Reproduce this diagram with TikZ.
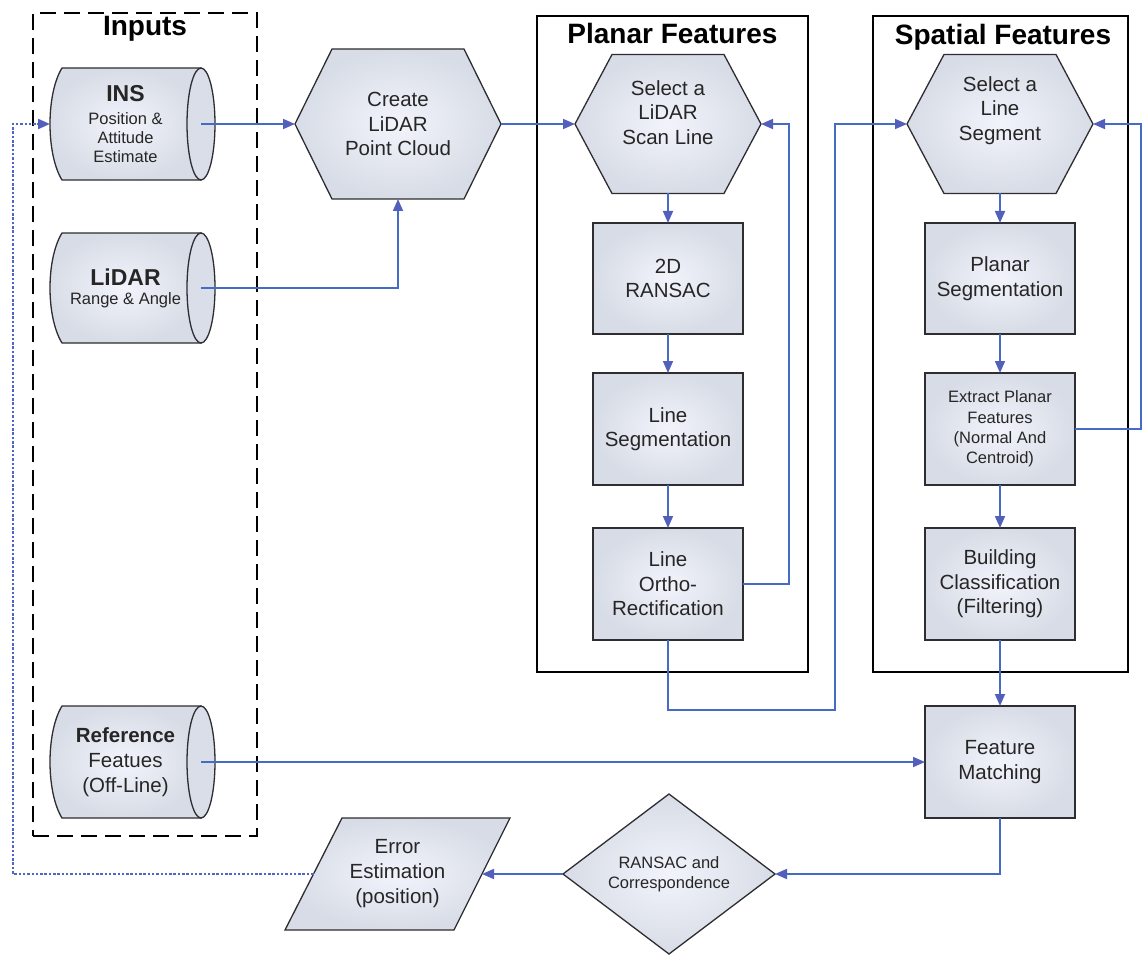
\documentclass[tikz,border=0pt]{standalone}
\usepackage{fontspec}
\setmainfont{Liberation Sans}
\usetikzlibrary{arrows.meta,calc}
\pgfdeclarelayer{back}
\pgfsetlayers{back,main}

\definecolor{edge}{RGB}{45,45,50}
\definecolor{fillhi}{RGB}{241,244,251}
\definecolor{filllo}{RGB}{216,220,230}
\definecolor{facefill}{RGB}{218,222,232}
\definecolor{flowblue}{RGB}{68,108,196}
\definecolor{tipblue}{RGB}{82,96,188}
\definecolor{dotblue}{RGB}{78,102,200}
\definecolor{txt}{RGB}{38,38,38}

\newcommand\flowfont{\fontsize{20.5}{24.5}\selectfont}
\newcommand\smallflowfont{\fontsize{16.5}{20.3}\selectfont}
\newcommand\capfont{\fontsize{16.5}{19}\selectfont}
\newcommand\headfont{\fontsize{28}{32}\selectfont\bfseries}

% hexagon drawn around an invisible node, #2 = inset of the top/bottom corners
\newcommand\hexshape[2]{%
  \path[shapefill] (#1.west) -- ([xshift=#2pt]#1.north west) -- ([xshift=-#2pt]#1.north east)
    -- (#1.east) -- ([xshift=-#2pt]#1.south east) -- ([xshift=#2pt]#1.south west) -- cycle;}
% horizontal drum: node spans from the back arc to the centre of the front face
\newcommand\drumshape[2]{%
  \path[shapefill] ([xshift=12pt]#1.north west) -- (#1.north east) -- (#1.south east)
    -- ([xshift=12pt]#1.south west)
    .. controls ([xshift=-4pt,yshift=26pt]#1.south west) and ([xshift=-4pt,yshift=-26pt]#1.north west)
    .. ([xshift=12pt]#1.north west) -- cycle;
  \path[frontface] (#1.east) ellipse [x radius=14pt, y radius=#2pt];}

\tikzset{
  plain/.style={inner sep=0pt, outer sep=0pt, align=center, text=txt, font=\flowfont},
  shapefill/.style={draw=edge, line width=1.3pt, inner color=fillhi, outer color=filllo},
  frontface/.style={draw=edge, line width=1.3pt, fill=facefill},
  procbox/.style={plain, shapefill, minimum width=150pt, minimum height=112pt},
  container/.style={plain, draw=black, line width=2.4pt},
  heading/.style={inner sep=0pt, outer sep=0pt, anchor=base, font=\headfont, text=black},
  flow/.style={draw=flowblue, line width=1.7pt,
    -{Triangle[length=12pt,width=10pt,color=tipblue]}},
  dotflow/.style={draw=dotblue, line width=2pt, dash pattern=on 2.5pt off 1.8pt,
    -{Triangle[length=12pt,width=10pt,color=tipblue]}},
}

\begin{document}
\begin{tikzpicture}[x=1pt,y=-1pt]
\useasboundingbox (0,0) rectangle (1144,955);
\begin{pgfonlayer}{back}
  \fill[white] (0,0) rectangle (1144,955);
\end{pgfonlayer}

% group frames and headings
\node[plain, draw=black, line width=2.4pt, dash pattern=on 16pt off 8pt,
      minimum width=224pt, minimum height=823pt] (inputs) at (145,424.5) {};
\node[container, minimum width=271pt, minimum height=656pt] (planar) at (672.5,344) {};
\node[container, minimum width=255pt, minimum height=656pt] (spatial) at (1000.5,344) {};
\node[heading] (inputs-title) at (145,36) {Inputs};
\node[heading] (planar-title) at (672.5,44) {Planar Features};
\node[heading] (spatial-title) at (1003,45) {Spatial Features};

% inputs
\node[plain, font=\capfont, minimum width=151pt, minimum height=112pt] (ins) at (125.5,124)
  {{\fontsize{23}{25}\selectfont\bfseries INS}\\[4pt]Position \&\\Attitude\\Estimate};
\node[plain, font=\capfont, minimum width=151pt, minimum height=110pt] (lidar) at (125.5,288)
  {{\fontsize{23}{25}\selectfont\bfseries LiDAR}\\Range \& Angle};
\node[plain, font=\fontsize{20.5}{25}\selectfont, minimum width=151pt, minimum height=112pt] (ref)
  at (125.5,762) {\textbf{Reference}\\Featues\\(Off-Line)};
\begin{pgfonlayer}{back}
  \drumshape{ins}{56}
  \drumshape{lidar}{55}
  \drumshape{ref}{56}
\end{pgfonlayer}

% point cloud and scan line selection
\node[plain, minimum width=206pt, minimum height=150pt] (create) at (398,124)
  {Create\\LiDAR\\Point Cloud};
\node[plain, minimum width=186pt, minimum height=139pt] (sel1) at (668,124) {};
\node[plain] (sel1-text) at ([yshift=11.5pt]sel1.center) {Select a\\LiDAR\\Scan Line};
\node[plain, minimum width=186pt, minimum height=139pt] (sel2) at (1000,124) {};
\node[plain] (sel2-text) at ([yshift=13.5pt]sel2.center) {Select a\\Line\\Segment};
\begin{pgfonlayer}{back}
  \hexshape{create}{37}
  \hexshape{sel1}{37}
  \hexshape{sel2}{37}
\end{pgfonlayer}

% planar features column
\node[procbox, minimum height=111pt] (ransac2d) at (668,278.5) {2D\\RANSAC};
\node[procbox] (lineseg) at (668,429) {Line\\Segmentation};
\node[procbox] (ortho) at (668,584) {Line\\Ortho-\\Rectification};

% spatial features column
\node[procbox, minimum height=111pt] (planseg) at (1000,278.5) {Planar\\Segmentation};
\node[procbox, font=\smallflowfont] (extract) at (1000,429)
  {Extract Planar\\Features\\(Normal And\\Centroid)};
\node[procbox] (building) at (1000,584)
  {Building\\Classification\\(Filtering)};
\node[procbox] (fm) at (1000,762) {Feature\\Matching};

% matching and error estimation
\node[plain, font=\smallflowfont, minimum width=212pt, minimum height=160pt] (ransac) at (669,874)
  {RANSAC and\\Correspondence};
\node[plain, font=\fontsize{20.5}{25}\selectfont, minimum width=225pt, minimum height=112pt] (err)
  at (397.5,874) {Error\\Estimation\\(position)};
\begin{pgfonlayer}{back}
  \path[shapefill] (ransac.north) -- (ransac.east) -- (ransac.south) -- (ransac.west) -- cycle;
  \path[shapefill] ([xshift=57pt]err.north west) -- (err.north east)
    -- ([xshift=-56pt]err.south east) -- (err.south west) -- cycle;
\end{pgfonlayer}
\coordinate (err-l) at ([xshift=28.5pt]err.west);
\coordinate (err-r) at ([xshift=-28pt]err.east);

% routing points
\coordinate (loop1) at (789,0);
\coordinate (bend2) at (835,710);
\coordinate (loop3) at (1141,0);
\coordinate (loop4) at (13,874);

% connectors
\draw[flow] (ins.east) -- (create.west);
\draw[flow] (lidar.east) -| (create.south);
\draw[flow] (create.east) -- (sel1.west);
\draw[flow] (sel1.south) -- (ransac2d.north);
\draw[flow] (ransac2d.south) -- (lineseg.north);
\draw[flow] (lineseg.south) -- (ortho.north);
\draw[flow] (ortho.east) -- (ortho.east -| loop1) |- (sel1.east);
\draw[flow] (ortho.south) |- (bend2) |- (sel2.west);
\draw[flow] (sel2.south) -- (planseg.north);
\draw[flow] (planseg.south) -- (extract.north);
\draw[flow] (extract.south) -- (building.north);
\draw[flow] (extract.east) -- (extract.east -| loop3) |- (sel2.east);
\draw[flow] (building.south) -- (fm.north);
\draw[flow] (ref.east) -- (fm.west);
\draw[flow] (fm.south) |- (ransac.east);
\draw[flow] (ransac.west) -- (err-r);
\draw[dotflow] (err-l) -- (loop4) |- (ins.west);
\end{tikzpicture}
\end{document}
